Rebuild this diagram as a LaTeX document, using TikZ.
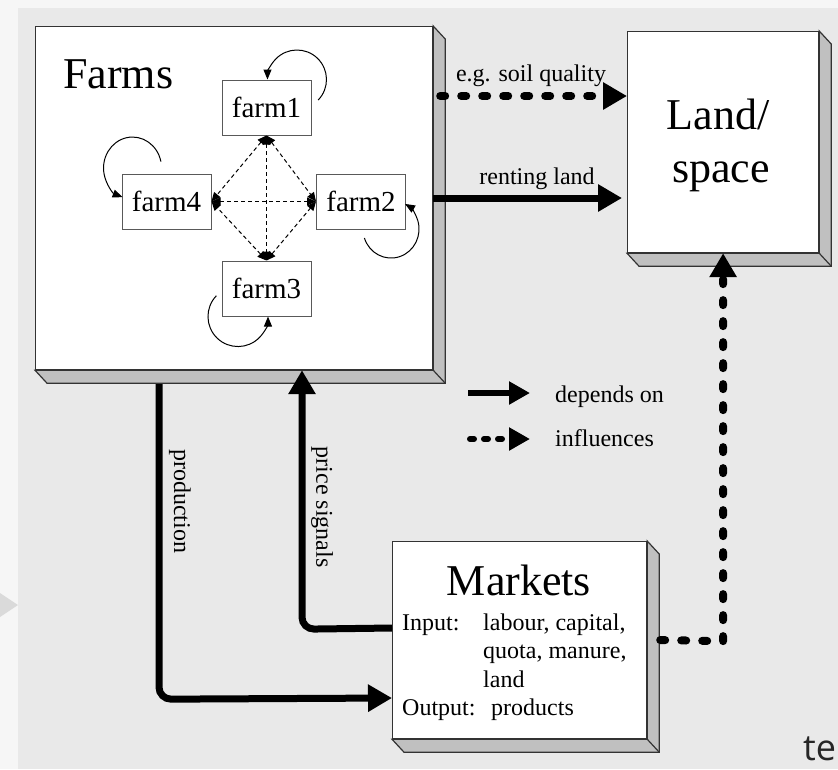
\documentclass[tikz,border=0pt]{standalone}
\usepackage{fontspec}
\setmainfont{Liberation Serif}
\newfontfamily\tefont{Open Sans}
\usetikzlibrary{arrows.meta,calc}
\definecolor{outerbg}{HTML}{F6F6F6}
\definecolor{panelbg}{HTML}{E9E9E9}
\definecolor{shade}{HTML}{C0C0C0}
\definecolor{edge}{HTML}{333333}
\definecolor{trig}{HTML}{DADADA}
\newcommand\mkshadow[1]{%
  \filldraw[fill=shade, draw=edge, line width=1.2pt, line join=miter]
    (#1.north east) -- ++(12,13) -- ($(#1.south east)+(12,13)$) -- ($(#1.south west)+(12,13)$)
    -- (#1.south west) -- (#1.south east) -- cycle;
  \draw[edge, line width=1.2pt] (#1.south east) -- ++(12,13);}
\begin{document}
\begin{tikzpicture}[x=1pt,y=-1pt,
  face/.style={draw=edge, line width=1.2pt, fill=white, inner sep=0, anchor=north west},
  farmbox/.style={draw=black!65, line width=1pt, fill=white, minimum width=89pt, minimum height=55pt, inner sep=0, font=\fontsize{29}{34}\selectfont},
  titletext/.style={inner sep=0, font=\fontsize{44}{52}\selectfont},
  smalltext/.style={inner sep=0, font=\fontsize{24}{28}\selectfont},
  dep/.style={line width=7pt, -{Triangle[length=24pt,width=26pt]}},
  infl/.style={line width=8pt, line cap=round, dash pattern=on 5pt off 16pt, -{Triangle[length=24pt,width=26pt]}},
  depleg/.style={line width=6pt, -{Triangle[length=21pt,width=22pt]}},
  inflleg/.style={line width=6pt, line cap=round, dash pattern=on 4pt off 10pt, -{Triangle[length=21pt,width=22pt]}},
  mutual/.style={line width=1pt, dash pattern=on 4pt off 3pt, {Triangle[length=9pt,width=8pt]}-{Triangle[length=9pt,width=8pt]}},
  selfloop/.style={line width=1pt, -{Triangle[length=10pt,width=8pt]}},
]
\useasboundingbox (0,0) rectangle (838,769);
\clip (0,0) rectangle (838,769);
% background
\fill[outerbg] (0,0) rectangle (838,769);
\fill[panelbg] (18,8) rectangle (838,769);
\fill[trig] (0,593) -- (18,605) -- (0,617) -- cycle;

% main boxes
\node[face, minimum width=397pt, minimum height=343pt] (farms) at (35,26) {};
\node[face, minimum width=191pt, minimum height=221pt] (land) at (627,31) {};
\node[face, minimum width=254pt, minimum height=197pt] (markets) at (392,541) {};
\mkshadow{farms}
\mkshadow{land}
\mkshadow{markets}

% box texts
\node[titletext, anchor=base west] (farmstitle) at (63,88) {Farms};
\node[titletext, anchor=base] (landt1) at (718,129) {Land/};
\node[titletext, anchor=base] (landt2) at (721,182) {space};
\node[titletext, anchor=base] (markett) at (519,595) {Markets};
\node[smalltext, anchor=base west] (in1) at (402,630) {Input:};
\node[smalltext, anchor=base west] (in2) at (483,630) {labour, capital,};
\node[smalltext, anchor=base west] (in3) at (483,658) {quota, manure,};
\node[smalltext, anchor=base west] (in4) at (483,687) {land};
\node[smalltext, anchor=base west] (out1) at (402,715) {Output:};
\node[smalltext, anchor=base west] (out2) at (491,715) {products};

% farms
\node[farmbox] (f1) at (266.5,107.5) {farm1};
\node[farmbox] (f2) at (361,201.5) {farm2};
\node[farmbox] (f3) at (266.5,288.5) {farm3};
\node[farmbox] (f4) at (166.5,201.5) {farm4};

\draw[mutual] (f1.south) -- (f3.north);
\draw[mutual] (f4.east) -- (f2.west);
\draw[mutual] (f1.south) -- (f4.east);
\draw[mutual] (f1.south) -- (f2.west);
\draw[mutual] (f3.north) -- (f4.east);
\draw[mutual] (f3.north) -- (f2.west);

\draw[selfloop] ($(f1.north)+(51.7,20.5)$) arc[start angle=44, end angle=-180, radius=29.5];
\draw[selfloop] ($(f2.east)+(-41.6,36.5)$) arc[start angle=162, end angle=-60, x radius=28, y radius=29];
\draw[selfloop] ($(f3.south)+(-50.1,-20.8)$) arc[start angle=224, end angle=0, radius=30];
\draw[selfloop] ($(f4.west)+(39.4,-39.9)$) arc[start angle=-12, end angle=-250, x radius=29, y radius=31];

% connectors
\draw[infl] ($(farms.north east)+(7,70)$) -- ($(land.north west)+(0,65)$);
\node[smalltext, anchor=base] (soillbl) at (531,81) {e.g. soil quality};

\draw[dep] ($(farms.north east)+(0,172)$) -- ($(land.north west)+(-5,167)$);
\node[smalltext, anchor=base] (rentlbl) at (537,184) {renting land};

\draw[infl] ($(markets.north east)+(13,99)$) -- ($(land.south)+(0,388)$) -- (land.south);

\draw[dep, rounded corners=12pt] ($(farms.south west)+(124,14)$) -- ($(farms.south west)+(124,329)$) -- ($(markets.north west)+(0,157)$);
\node[smalltext, rotate=-90] (prodlbl) at (180,501) {production};

\draw[dep, rounded corners=12pt] ($(markets.north west)+(0,87)$) -- ($(farms.south west)+(267,259)$) -- ($(farms.south west)+(267,0)$);
\node[smalltext, rotate=-90] (pricelbl) at (322,507) {price signals};

% legend
\coordinate (lgA1) at (468,393);
\coordinate (lgA2) at (530,393);
\coordinate (lgB1) at (470,439);
\coordinate (lgB2) at (530,439);
\draw[depleg] (lgA1) -- (lgA2);
\draw[inflleg] (lgB1) -- (lgB2);
\node[smalltext, anchor=base west] (lg1) at (555,402) {depends on};
\node[smalltext, anchor=base west] (lg2) at (555,446) {influences};

% text at the lower right corner
\node[inner sep=0, anchor=base west, font=\tefont\fontsize{36}{44}\selectfont, text=black!85] (cut) at (803,760) {te};
\end{tikzpicture}
\end{document}
